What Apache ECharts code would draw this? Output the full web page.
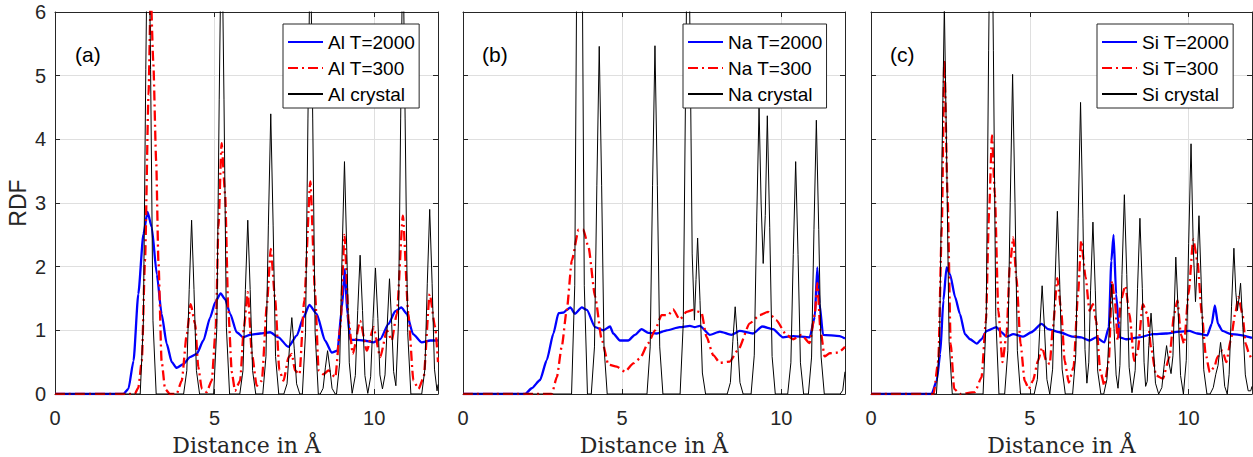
<!DOCTYPE html>
<html>
<head>
<meta charset="utf-8">
<script src="https://cdn.jsdelivr.net/npm/echarts@6/dist/echarts.min.js"></script>
<style>html,body{margin:0;padding:0;background:#fff}#c{width:1253px;height:457px}</style>
</head>
<body>
<div id="c"></div>
<script>
// ---------- data ----------
const xTicks = [0, 5, 10];
const yTicks = [0, 1, 2, 3, 4, 5, 6];
const panelLabels = ['(a)', '(b)', '(c)'];
const seriesNames = [
  ['Al T=2000', 'Al T=300', 'Al crystal'],
  ['Na T=2000', 'Na T=300', 'Na crystal'],
  ['Si T=2000', 'Si T=300', 'Si crystal']
];

const alHot = [[0,0],[2.14,0],[2.30,0.08],[2.46,0.52],[2.61,1.57],[2.77,2.51],[2.90,2.86],[3.03,2.62],[3.19,1.88],[3.34,1.26],[3.50,0.79],[3.66,0.50],[3.81,0.41],[4.02,0.47],[4.23,0.58],[4.44,0.63],[4.65,0.84],[4.86,1.20],[5.02,1.44],[5.19,1.58],[5.33,1.49],[5.49,1.26],[5.69,0.97],[5.90,0.89],[6.11,0.93],[6.43,0.95],[6.74,0.97],[7.00,0.89],[7.31,0.74],[7.58,0.92],[7.78,1.20],[7.97,1.40],[8.20,1.26],[8.46,0.84],[8.67,0.65],[8.85,0.68],[8.99,1.36],[9.08,1.96],[9.16,1.26],[9.25,0.85],[9.41,0.85],[9.67,0.84],[9.98,0.81],[10.19,0.86],[10.45,1.10],[10.66,1.30],[10.85,1.36],[11.02,1.26],[11.22,0.94],[11.49,0.81],[11.76,0.84],[12.0,0.84]];
const alCold = [[0,0],[2.50,0],[2.61,0.10],[2.72,0.52],[2.82,2.09],[2.93,4.70],[3.00,6.3],[3.08,5.2],[3.17,3.66],[3.24,2.09],[3.34,0.52],[3.45,0.08],[3.60,0],[3.81,0],[3.97,0.21],[4.13,0.94],[4.25,1.41],[4.39,1.10],[4.49,0.42],[4.60,0.08],[4.75,0.03],[4.91,0.21],[5.04,1.05],[5.12,2.62],[5.22,3.94],[5.33,3.14],[5.43,1.31],[5.54,0.34],[5.64,0.05],[5.80,0.21],[5.92,1.05],[6.04,1.60],[6.17,0.63],[6.32,0.13],[6.48,0.21],[6.64,1.41],[6.76,2.28],[6.90,1.47],[7.03,0.37],[7.16,0.21],[7.32,0.58],[7.42,0.63],[7.52,0.37],[7.66,0.31],[7.81,1.47],[8.00,3.34],[8.15,1.57],[8.26,0.37],[8.41,0.31],[8.57,0.37],[8.78,0.26],[8.94,1.05],[9.07,2.50],[9.20,1.15],[9.33,0.63],[9.56,1.15],[9.77,0.68],[9.98,1.05],[10.19,0.58],[10.40,1.00],[10.55,0.84],[10.71,1.26],[10.90,2.80],[11.07,1.26],[11.23,0.21],[11.39,0.08],[11.55,0.26],[11.74,1.57],[11.91,1.05],[12.0,0.5]];
const alCrystal = [[0,0],[2.67,0],[2.77,1.15],[2.845,5.1],[2.92,8.5],[2.995,5.1],[3.07,1.15],[3.17,0],
[4.03,0],[4.13,0.37],[4.205,1.64],[4.28,2.73],[4.355,1.64],[4.43,0.37],[4.53,0],
[4.97,0],[5.07,1.04],[5.145,4.62],[5.22,7.7],[5.295,4.62],[5.37,1.04],[5.47,0],
[5.79,0],[5.89,0.37],[5.965,1.64],[6.04,2.73],[6.115,1.64],[6.19,0.37],[6.29,0],
[6.51,0],[6.61,0.59],[6.685,2.64],[6.76,4.4],[6.835,2.64],[6.91,0.59],[7.01,0],
[7.17,0],[7.27,0.16],[7.345,0.72],[7.42,1.2],[7.495,0.72],[7.57,0.16],[7.67,0],
[7.75,0],[7.85,0.97],[7.925,4.32],[8.0,7.2],[8.075,4.32],[8.15,0.97],[8.25,0],
[8.31,0],[8.40,0.09],[8.47,0.41],[8.54,0.68],[8.61,0.41],[8.68,0.09],[8.78,0],
[8.82,0],[8.92,0.49],[8.995,2.19],[9.07,3.65],[9.145,2.19],[9.22,0.49],[9.31,0.01],
[9.41,0.29],[9.485,1.31],[9.56,2.18],[9.635,1.31],[9.71,0.29],[9.80,0.01],
[9.89,0.27],[9.965,1.19],[10.04,1.98],[10.115,1.19],[10.18,0.3],[10.26,0.08],
[10.34,0.30],[10.41,1.09],[10.48,1.81],[10.55,1.09],[10.61,0.35],[10.68,0.13],
[10.76,1.1],[10.83,4.32],[10.90,7.2],[10.97,4.32],[11.05,0.97],[11.15,0],
[11.49,0],[11.59,0.39],[11.665,1.74],[11.74,2.9],[11.815,1.74],[11.89,0.39],[11.97,0.05],[12.0,0.15]];

const naHot = [[0,0],[1.95,0],[2.16,0.09],[2.42,0.22],[2.63,0.53],[2.84,0.95],[3.00,1.27],[3.16,1.28],[3.26,1.32],[3.37,1.36],[3.52,1.26],[3.73,1.36],[3.89,1.32],[4.15,1.05],[4.41,1.00],[4.62,1.06],[4.72,0.95],[4.93,0.84],[5.19,0.84],[5.40,0.93],[5.61,1.02],[5.82,0.96],[6.08,0.95],[6.40,1.00],[6.81,1.05],[7.13,1.07],[7.28,1.05],[7.44,1.07],[7.75,0.93],[8.07,0.98],[8.43,0.93],[8.69,0.99],[9.11,0.95],[9.40,1.06],[9.74,1.02],[10.05,0.89],[10.37,0.91],[10.89,0.89],[11.05,1.21],[11.13,1.99],[11.20,1.42],[11.31,0.93],[11.83,0.91],[12.0,0.87]];
const naCold = [[0,0],[2.79,0],[2.95,0.27],[3.10,0.74],[3.26,1.32],[3.42,2.10],[3.63,2.58],[3.78,2.58],[3.94,2.31],[4.15,1.53],[4.36,0.85],[4.57,0.46],[4.83,0.43],[5.09,0.35],[5.35,0.48],[5.56,0.56],[5.82,0.80],[6.03,1.00],[6.24,1.24],[6.45,1.24],[6.60,1.33],[6.81,1.17],[7.02,1.29],[7.23,1.32],[7.49,1.28],[7.65,0.90],[7.86,0.61],[8.07,0.49],[8.38,0.51],[8.64,0.69],[9.01,1.11],[9.32,1.24],[9.58,1.29],[9.84,1.16],[10.16,0.93],[10.37,0.86],[10.63,0.93],[10.89,0.80],[11.05,1.24],[11.13,1.74],[11.23,1.00],[11.36,0.59],[11.52,0.64],[11.78,0.65],[12.0,0.74]];
const naCrystal = [[0,0],[3.41,0],[3.51,1.7],[3.585,7.6],[3.66,12.6],[3.735,7.6],[3.81,1.7],[3.91,0],
[4.03,0],[4.13,0.74],[4.205,3.28],[4.28,5.46],[4.355,3.28],[4.43,0.74],[4.53,0],
[5.78,0],[5.88,0.74],[5.955,3.28],[6.03,5.47],[6.105,3.28],[6.18,0.74],[6.28,0],
[6.82,0],[6.92,1.12],[6.995,4.98],[7.07,8.3],[7.145,4.98],[7.20,2.2],[7.27,1.16],[7.32,1.8],[7.37,2.45],[7.445,1.47],[7.52,0.33],[7.62,0],
[8.30,0],[8.40,0.18],[8.475,0.82],[8.55,1.37],[8.625,0.82],[8.70,0.18],[8.80,0],
[9.05,0],[9.15,0.61],[9.225,2.7],[9.30,4.5],[9.365,3.0],[9.43,2.05],[9.495,2.8],[9.56,4.37],[9.635,2.62],[9.71,0.59],[9.81,0],
[10.20,0],[10.30,0.49],[10.375,2.19],[10.45,3.65],[10.525,2.19],[10.60,0.49],[10.70,0],
[10.85,0],[10.95,0.58],[11.025,2.58],[11.10,4.3],[11.175,2.58],[11.25,0.58],[11.35,0],
[11.85,0],[11.93,0.06],[12.0,0.35]];

const siHot = [[0,0],[1.91,0],[2.07,0.21],[2.18,0.63],[2.28,1.47],[2.38,1.99],[2.49,1.88],[2.65,1.52],[2.80,1.26],[2.96,0.94],[3.12,0.86],[3.33,0.79],[3.48,0.86],[3.64,0.99],[3.95,1.05],[4.11,0.97],[4.27,0.90],[4.48,0.94],[4.79,0.90],[5.05,0.97],[5.37,1.10],[5.58,1.02],[5.94,0.97],[6.36,0.90],[6.62,0.89],[6.88,0.84],[7.09,0.89],[7.35,0.81],[7.49,1.05],[7.57,2.09],[7.64,2.50],[7.72,1.57],[7.83,0.89],[8.03,0.86],[8.45,0.89],[8.87,0.94],[9.29,0.95],[9.71,0.98],[10.02,0.99],[10.28,0.95],[10.59,0.92],[10.73,1.10],[10.83,1.39],[10.93,1.10],[11.07,0.99],[11.33,0.94],[11.59,0.93],[12.0,0.88]];
const siCold = [[0,0],[1.97,0],[2.12,0.52],[2.23,2.62],[2.31,5.25],[2.41,3.14],[2.51,0.79],[2.62,0.08],[2.80,0],[3.27,0.03],[3.48,0.26],[3.62,1.15],[3.72,2.88],[3.81,4.06],[3.90,3.14],[4.01,1.31],[4.14,0.50],[4.27,0.94],[4.37,1.99],[4.48,2.46],[4.58,1.83],[4.71,0.79],[4.84,0.21],[4.97,0.08],[5.10,0.21],[5.26,0.52],[5.39,0.73],[5.52,0.52],[5.63,0.47],[5.73,1.05],[5.87,1.82],[5.99,1.31],[6.10,0.52],[6.23,0.18],[6.38,0.42],[6.52,1.57],[6.62,2.41],[6.76,1.83],[6.88,1.31],[6.99,1.41],[7.09,1.15],[7.22,0.37],[7.35,0.13],[7.49,0.52],[7.59,1.78],[7.68,1.47],[7.77,0.84],[7.87,1.47],[8.01,1.70],[8.14,1.26],[8.29,0.52],[8.40,0.68],[8.56,1.41],[8.70,1.26],[8.82,0.73],[8.98,0.29],[9.19,0.24],[9.40,0.58],[9.55,1.26],[9.65,1.47],[9.76,0.94],[9.86,0.79],[10.00,1.57],[10.15,2.43],[10.28,2.09],[10.42,1.26],[10.54,0.63],[10.67,0.34],[10.81,0.42],[10.91,0.58],[11.07,0.68],[11.19,0.50],[11.33,0.84],[11.47,1.26],[11.57,1.52],[11.70,1.26],[11.80,0.79],[11.91,0.63],[12.0,0.52]];
const siCrystal = [[0,0],[2.06,0],[2.16,0.82],[2.235,3.66],[2.31,6.1],[2.385,3.66],[2.46,0.82],[2.56,0],
[3.53,0],[3.63,1.22],[3.705,5.4],[3.78,9],[3.855,5.4],[3.93,1.22],[4.03,0],
[4.21,0],[4.31,0.68],[4.385,3.01],[4.46,5.02],[4.535,3.01],[4.61,0.68],[4.71,0],
[5.14,0],[5.24,0.23],[5.315,1.02],[5.39,1.70],[5.465,1.02],[5.54,0.23],[5.63,0],
[5.72,0.39],[5.795,1.72],[5.87,2.87],[5.945,1.72],[6.02,0.39],[6.12,0],
[6.35,0],[6.45,0.62],[6.525,2.75],[6.60,4.58],[6.675,2.75],[6.74,0.7],[6.80,0.17],
[6.86,0.5],[6.915,1.62],[6.99,2.70],[7.065,1.62],[7.14,0.36],[7.24,0],
[7.33,0],[7.43,0.23],[7.505,1.03],[7.58,1.72],[7.655,1.03],[7.72,0.3],[7.78,0.09],
[7.84,0.45],[7.905,1.88],[7.98,3.13],[8.055,1.88],[8.13,0.42],[8.22,0.02],
[8.32,0.37],[8.395,1.66],[8.47,2.76],[8.545,1.66],[8.60,0.5],[8.65,0.12],
[8.70,0.2],[8.75,0.76],[8.82,1.27],[8.89,0.76],[8.96,0.17],[9.06,0],
[9.16,0.10],[9.235,0.46],[9.31,0.76],[9.38,0.5],[9.45,0.32],[9.51,0.6],[9.55,1.3],[9.60,2.15],[9.675,1.29],[9.75,0.29],[9.84,0],
[9.93,0.53],[10.005,2.36],[10.08,3.93],[10.15,2.3],[10.22,1.45],[10.27,2.0],[10.33,2.80],[10.405,1.68],[10.48,0.38],[10.58,0],
[10.68,0],[10.78,0.1],[10.86,0.31],[10.93,0.45],[11.01,0.81],[11.08,0.5],[11.14,0.12],[11.22,0],
[11.28,0.31],[11.355,1.37],[11.43,2.29],[11.49,1.6],[11.54,1.31],[11.59,1.5],[11.64,1.74],[11.715,1.04],[11.79,0.3],[11.88,0.05],[11.96,0.05],[12.0,0.12]];

const panelData = [
  [alHot, alCold, alCrystal],
  [naHot, naCold, naCrystal],
  [siHot, siCold, siCrystal]
];

// ---------- layout & style ----------
const grids = [
  {left: 55, top: 12, width: 383, height: 382},
  {left: 463, top: 12, width: 382, height: 382},
  {left: 871, top: 12, width: 381, height: 382}
];
const legendLeft = [283, 683, 1097];
const labelPos = [[75, 44], [482, 44], [890, 44]];
const AX = '#262626';
const GRIDC = '#dfdfdf';
const SANS = 'Liberation Sans, Arial, Helvetica, sans-serif';
const styles = [
  {color: '#0000ff', width: 2.3, type: 'solid', smooth: 0.2},
  {color: '#ff0000', width: 2.3, type: [10, 4, 2, 4], smooth: 0.2},
  {color: '#000000', width: 1, type: 'solid', smooth: false}
];

const xAxes = [], yAxes = [], series = [], legends = [], graphics = [];
grids.forEach((g, i) => {
  xAxes.push({
    type: 'value', gridIndex: i, min: 0, max: 12, interval: 5, position: 'bottom',
    axisLine: {show: true, onZero: false, lineStyle: {color: AX, width: 1}},
    axisTick: {show: true, inside: true, length: 5, lineStyle: {color: AX}},
    axisLabel: {show: true, fontSize: 20, color: AX, margin: 14, fontFamily: SANS, showMaxLabel: false,
      formatter: v => (xTicks.indexOf(v) >= 0 ? String(v) : '')},
    splitLine: {show: true, lineStyle: {color: GRIDC, width: 1}},
    name: 'Distance in Å', nameLocation: 'middle', nameGap: 40,
    nameTextStyle: {fontFamily: 'DejaVu Serif, Liberation Serif, serif', fontSize: 22, color: AX}
  });
  xAxes.push({
    type: 'value', gridIndex: i, min: 0, max: 12, interval: 5, position: 'top',
    axisLine: {show: true, onZero: false, lineStyle: {color: AX, width: 1}},
    axisTick: {show: true, inside: true, length: 5, lineStyle: {color: AX}},
    axisLabel: {show: false}, splitLine: {show: false}
  });
  yAxes.push({
    type: 'value', gridIndex: i, min: 0, max: 6, interval: 1, position: 'left',
    axisLine: {show: true, onZero: false, lineStyle: {color: AX, width: 1}},
    axisTick: {show: true, inside: true, length: 5, lineStyle: {color: AX}},
    axisLabel: {show: i === 0, fontSize: 20, color: AX, margin: 9, fontFamily: SANS,
      formatter: v => (yTicks.indexOf(v) >= 0 ? String(v) : '')},
    splitLine: {show: true, lineStyle: {color: GRIDC, width: 1}},
    name: i === 0 ? 'RDF' : '', nameLocation: 'middle', nameGap: 26, nameRotate: 90,
    nameTextStyle: {fontFamily: SANS, fontSize: 23, color: AX}
  });
  yAxes.push({
    type: 'value', gridIndex: i, min: 0, max: 6, interval: 1, position: 'right',
    axisLine: {show: true, onZero: false, lineStyle: {color: AX, width: 1}},
    axisTick: {show: true, inside: true, length: 5, lineStyle: {color: AX}},
    axisLabel: {show: false}, splitLine: {show: false}
  });
  panelData[i].forEach((d, k) => {
    const s = styles[k];
    series.push({
      type: 'line', name: seriesNames[i][k], xAxisIndex: 2 * i, yAxisIndex: 2 * i,
      data: d, symbol: 'none', showSymbol: false, smooth: s.smooth, smoothMonotone: 'x',
      clip: true, animation: false, z: 2 + k,
      lineStyle: {color: s.color, width: s.width, type: s.type},
      itemStyle: {color: s.color}
    });
  });
  legends.push({
    data: seriesNames[i], orient: 'vertical', left: legendLeft[i], top: 24,
    padding: [7, 4, 3, 4], itemGap: 4, itemWidth: 35, itemHeight: 22, itemTextGap: 2,
    backgroundColor: '#ffffff', borderColor: AX, borderWidth: 1, borderRadius: 0,
    selectedMode: false, z: 10,
    itemStyle: {opacity: 0},
    textStyle: {fontSize: 19, fontFamily: SANS, color: '#000', lineHeight: 22}
  });
  graphics.push({
    type: 'text', left: labelPos[i][0], top: labelPos[i][1], z: 20,
    style: {text: panelLabels[i], fontSize: 21, fontFamily: SANS, fill: '#000'}
  });
});

const chart = echarts.init(document.getElementById('c'), null, {renderer: 'svg', width: 1253, height: 457});
chart.setOption({
  animation: false,
  backgroundColor: '#ffffff',
  grid: grids.map(g => Object.assign({containLabel: false, outerBoundsMode: 'none'}, g)),
  xAxis: xAxes, yAxis: yAxes, series: series, legend: legends, graphic: graphics
});
</script>
</body>
</html>
